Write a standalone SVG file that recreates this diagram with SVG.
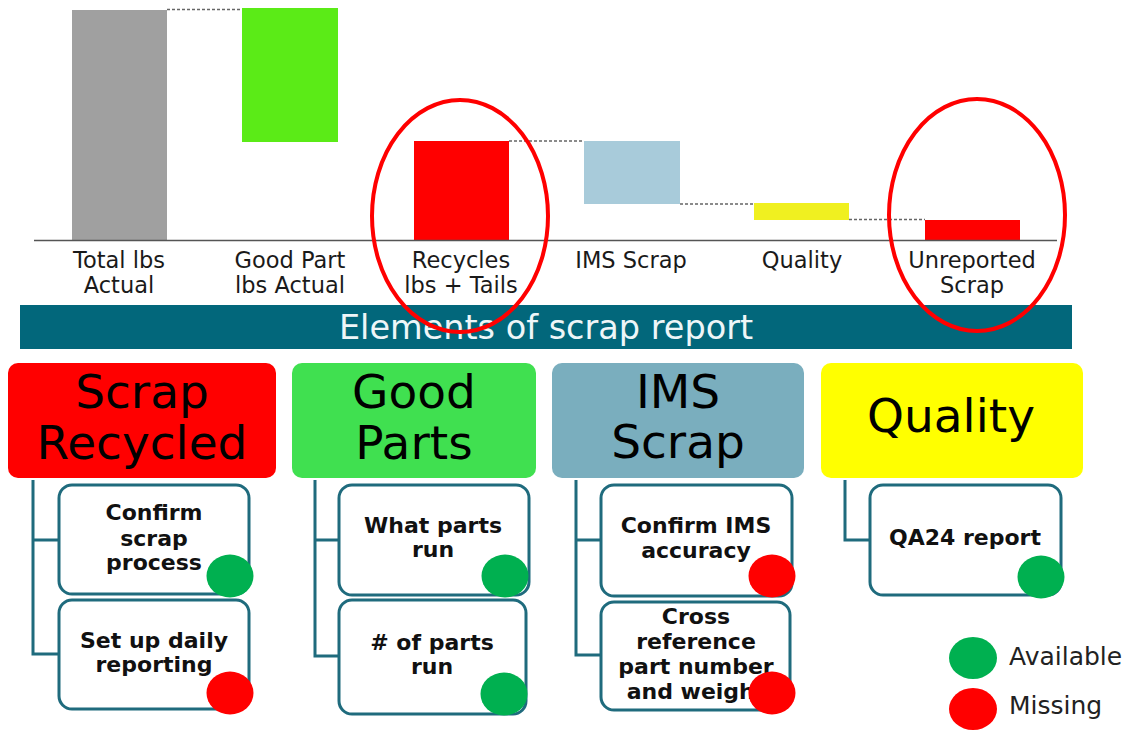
<svg xmlns="http://www.w3.org/2000/svg" width="1142" height="737" viewBox="0 0 1142 737">
<style>
.lbl{font-family:"DejaVu Sans",sans-serif;font-size:22.5px;fill:#1a1a1a;text-anchor:middle}
.cat{font-family:"DejaVu Sans",sans-serif;font-size:47px;fill:#000;text-anchor:middle}
.sub{font-family:"DejaVu Sans",sans-serif;font-weight:bold;font-size:22px;fill:#111;text-anchor:middle}
.box{fill:#fff;stroke:#1f6b7d;stroke-width:3}
.conn{fill:none;stroke:#1f6b7d;stroke-width:3}
.dash{stroke:#666;stroke-width:1.5;stroke-dasharray:3 2}
.ok{fill:#00b050}
.no{fill:#ff0000}
.hl{fill:none;stroke:#ff0000;stroke-width:4}
.leg{font-family:"DejaVu Sans",sans-serif;font-size:25px;fill:#222}
</style>
<rect width="1142" height="737" fill="#fff"/>
<g id="chart">
<rect x="72" y="10" width="95" height="230" fill="#a0a0a0"/>
<rect x="242" y="8" width="96" height="134" fill="#5beb17"/>
<rect x="414" y="141" width="95" height="99" fill="#ff0000"/>
<rect x="584" y="141" width="96" height="63" fill="#a8cbda"/>
<rect x="754" y="203" width="95" height="17" fill="#f0f020"/>
<rect x="925" y="220" width="95" height="20" fill="#ff0000"/>
<line class="dash" x1="167" y1="9.5" x2="242" y2="9.5"/>
<line class="dash" x1="509" y1="141" x2="584" y2="141"/>
<line class="dash" x1="680" y1="204" x2="754" y2="204"/>
<line class="dash" x1="849" y1="219.5" x2="925" y2="219.5"/>
<line x1="34" y1="240.5" x2="1057" y2="240.5" stroke="#555" stroke-width="1.5"/>
<text class="lbl" x="119" y="268">Total lbs</text>
<text class="lbl" x="119" y="293">Actual</text>
<text class="lbl" x="290" y="268">Good Part</text>
<text class="lbl" x="290" y="293">lbs Actual</text>
<text class="lbl" x="461" y="268">Recycles</text>
<text class="lbl" x="461" y="293">lbs + Tails</text>
<text class="lbl" x="631" y="268">IMS Scrap</text>
<text class="lbl" x="802" y="268">Quality</text>
<text class="lbl" x="972" y="268">Unreported</text>
<text class="lbl" x="972" y="293">Scrap</text>
</g>
<g id="banner">
<rect x="20" y="305" width="1052" height="44" fill="#02677b"/>
<text x="546" y="339" font-family="DejaVu Sans, sans-serif" font-size="33.5" fill="#eef6f8" text-anchor="middle">Elements of scrap report</text>
</g>
<g id="highlights">
<ellipse class="hl" cx="460" cy="216" rx="88" ry="116"/>
<ellipse class="hl" cx="977" cy="215" rx="88" ry="116"/>
</g>
<g id="connectors">
<path class="conn" d="M33 480 V654 H59 M33 540 H59"/>
<path class="conn" d="M315 480 V656 H339 M315 540 H339"/>
<path class="conn" d="M576 480 V655 H601 M576 540 H601"/>
<path class="conn" d="M845 480 V540 H870"/>
</g>
<g id="cat-scrap">
<rect x="8" y="363" width="268" height="115" rx="10" fill="#ff0000"/>
<text class="cat" x="142" y="408">Scrap</text>
<text class="cat" x="142" y="459">Recycled</text>
</g>
<g id="cat-good">
<rect x="292" y="363" width="244" height="115" rx="10" fill="#40e050"/>
<text class="cat" x="414" y="408">Good</text>
<text class="cat" x="414" y="459">Parts</text>
</g>
<g id="cat-ims">
<rect x="552" y="363" width="252" height="115" rx="10" fill="#7aaebe"/>
<text class="cat" x="678" y="408">IMS</text>
<text class="cat" x="678" y="458">Scrap</text>
</g>
<g id="cat-quality">
<rect x="821" y="363" width="262" height="115" rx="10" fill="#ffff00"/>
<text class="cat" x="951" y="432">Quality</text>
</g>
<g id="sub-confirm-scrap">
<rect class="box" x="59" y="485" width="190" height="109" rx="13"/>
<text class="sub" x="154" y="520">Confirm</text>
<text class="sub" x="154" y="546">scrap</text>
<text class="sub" x="154" y="570">process</text>
<ellipse class="ok" cx="230" cy="576" rx="23.5" ry="21.5"/>
</g>
<g id="sub-daily">
<rect class="box" x="59" y="600" width="190" height="109" rx="13"/>
<text class="sub" x="154" y="648">Set up daily</text>
<text class="sub" x="154" y="672">reporting</text>
<ellipse class="no" cx="230" cy="693" rx="23.5" ry="21.5"/>
</g>
<g id="sub-what-parts">
<rect class="box" x="339" y="485" width="190" height="110" rx="13"/>
<text class="sub" x="433" y="533">What parts</text>
<text class="sub" x="433" y="557">run</text>
<ellipse class="ok" cx="505" cy="576" rx="23.5" ry="21.5"/>
</g>
<g id="sub-num-parts">
<rect class="box" x="339" y="600" width="187" height="114" rx="13"/>
<text class="sub" x="432" y="650">#&#160;of parts</text>
<text class="sub" x="432" y="674">run</text>
<ellipse class="ok" cx="504" cy="694" rx="23.5" ry="21.5"/>
</g>
<g id="sub-ims-accuracy">
<rect class="box" x="601" y="485" width="191" height="111" rx="13"/>
<text class="sub" x="696" y="533">Confirm IMS</text>
<text class="sub" x="696" y="558">accuracy</text>
<ellipse class="no" cx="772" cy="576" rx="23.5" ry="21.5"/>
</g>
<g id="sub-cross-ref">
<rect class="box" x="601" y="602" width="189" height="108" rx="13"/>
<text class="sub" x="696" y="624">Cross</text>
<text class="sub" x="696" y="649">reference</text>
<text class="sub" x="696" y="674">part number</text>
<text class="sub" x="696" y="699">and weight</text>
<ellipse class="no" cx="772" cy="693" rx="23.5" ry="21.5"/>
</g>
<g id="sub-qa24">
<rect class="box" x="870" y="485" width="191" height="110" rx="13"/>
<text class="sub" x="965" y="545">QA24 report</text>
<ellipse class="ok" cx="1041" cy="577" rx="23.5" ry="21.5"/>
</g>
<g id="legend">
<ellipse class="ok" cx="973" cy="658" rx="24" ry="21"/>
<text class="leg" x="1009" y="665">Available</text>
<ellipse class="no" cx="973" cy="709" rx="24" ry="21"/>
<text class="leg" x="1009" y="714">Missing</text>
</g>
</svg>
